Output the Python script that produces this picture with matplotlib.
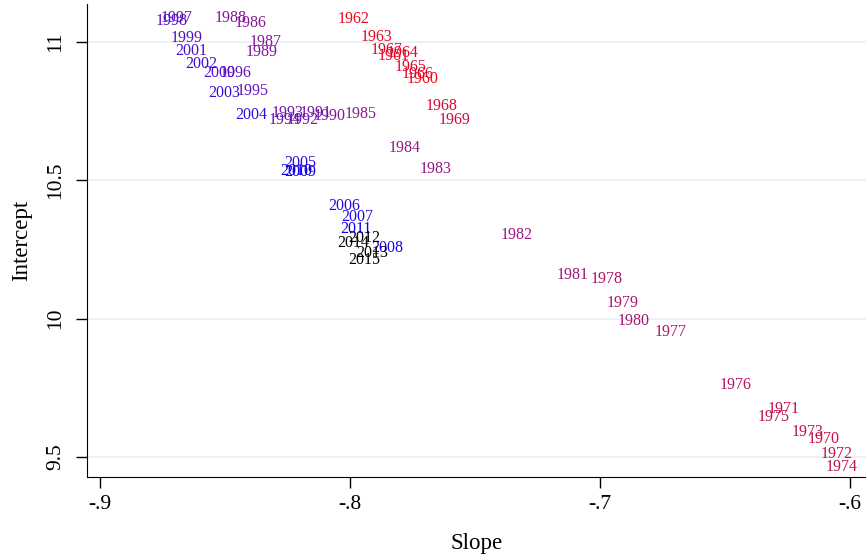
import matplotlib.pyplot as plt
import numpy as np
from matplotlib.colors import LinearSegmentedColormap

years = list(range(1960, 2016))
slopes = [
    -0.7708, -0.7824, -0.7984, -0.7896, -0.7788, -0.7756, -0.7732, -0.7852, -0.7632, -0.7580,
    -0.6104, -0.6264, -0.6052, -0.6168, -0.6032, -0.6304, -0.6456, -0.6716, -0.6972, -0.6908,
    -0.6864, -0.7108, -0.7332, -0.7656, -0.7780, -0.7956, -0.8396, -0.8336, -0.8476, -0.8352,
    -0.8080, -0.8136, -0.8188, -0.8248, -0.8260, -0.8388, -0.8456, -0.8692, -0.8712, -0.8652,
    -0.8524, -0.8636, -0.8596, -0.8504, -0.8396, -0.8200, -0.8024, -0.7972, -0.7852, -0.8200,
    -0.8216, -0.7976, -0.7944, -0.7912, -0.7988, -0.7944,
]
intercepts = [
    10.866, 10.949, 11.083, 11.018, 10.960, 10.909, 10.884, 10.971, 10.768, 10.717,
    9.565, 9.674, 9.511, 9.591, 9.464, 9.645, 9.761, 9.953, 10.145, 10.058,
    9.993, 10.159, 10.301, 10.540, 10.616, 10.739, 11.069, 11.000, 11.087, 10.964,
    10.732, 10.743, 10.717, 10.743, 10.717, 10.822, 10.888, 11.087, 11.076, 11.014,
    10.888, 10.967, 10.920, 10.815, 10.736, 10.562, 10.409, 10.366, 10.257, 10.529,
    10.533, 10.326, 10.290, 10.236, 10.272, 10.214,
]

plt.rcParams['font.family'] = ['Liberation Serif', 'DejaVu Serif']

# red -> crimson -> purple -> blue, black from 2012 on
cmap = LinearSegmentedColormap.from_list(
    "yrs", ["#fa0014", "#c0104f", "#8a1a8e", "#5a10c8", "#0a00f5"])

def year_color(y):
    if y >= 2012:
        return "black"
    return cmap((y - 1960) / (2011 - 1960))

fig = plt.figure(figsize=(8.66, 5.58), dpi=100)
ax = fig.add_axes([0.1005, 0.1452, 0.8995, 0.8476])

for yr, s, b in zip(years, slopes, intercepts):
    ax.text(s, b, str(yr), color=year_color(yr), fontsize=11.5,
            ha="center", va="center")

ax.set_xlim(-0.9052, -0.5936)
ax.set_ylim(9.4275, 11.138)
ax.set_xticks([-0.9, -0.8, -0.7, -0.6])
ax.set_xticklabels(["-.9", "-.8", "-.7", "-.6"])
ax.set_yticks([9.5, 10, 10.5, 11])
ax.set_yticklabels(["9.5", "10", "10.5", "11"], rotation=90, va="center")
ax.tick_params(labelsize=15.5, length=8, width=1, direction="out")
ax.tick_params(axis="y", pad=8)
ax.tick_params(axis="x", pad=5)
ax.grid(axis="y", color="#e8f0f3", linewidth=1.2)
ax.set_axisbelow(True)
for side in ["top", "right"]:
    ax.spines[side].set_visible(False)
ax.set_xlabel("Slope", fontsize=16.5, labelpad=14)
ax.set_ylabel("Intercept", fontsize=16.5, labelpad=10)

fig.savefig("out.png", dpi=100)
